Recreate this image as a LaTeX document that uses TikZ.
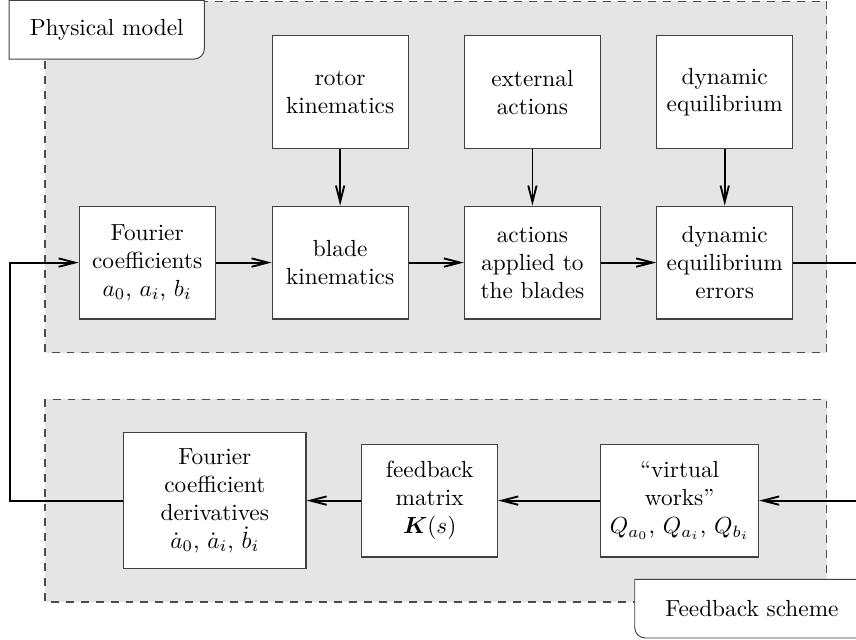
\documentclass[tikz,border=0pt]{standalone}
\usepackage{amsmath, amssymb}
\usepackage{tikz}
\usetikzlibrary{arrows.meta, positioning, calc}

\begin{document}
\begin{tikzpicture}[
      block/.style={draw=black!75, line width=0.5pt, fill=white, minimum width=2.05cm, minimum height=1.70cm, align=center, inner sep=2pt},
      group/.style={draw=black!70, fill=black!10, line width=0.55pt, dash pattern=on 3.4pt off 3pt},
      tag/.style={minimum height=0.87cm, inner sep=0pt},
      flow/.style={thick, -{Straight Barb[length=7pt, width=3.6pt]}}
    ]
      \useasboundingbox (0,0) rectangle (12.91,-9.64);

      % Group backgrounds
      \draw[group] (0.68,-0.02) rectangle (12.47,-5.32);
      \draw[group] (0.68,-6.02) rectangle (12.47,-9.08);

      % Group labels
      \node[tag, minimum width=2.93cm] (phys) at (1.61,-0.45) {Physical model};
      \draw[draw=black!75, fill=white] (phys.north west) -- (phys.north east) [rounded corners=4.5pt] -- (phys.south east) [sharp corners] -- (phys.south west) -- cycle;
      \node[tag, minimum width=2.93cm] at (phys) {Physical model};
      \node[tag, minimum width=3.52cm] (feed) at (11.34,-9.18) {Feedback scheme};
      \draw[draw=black!75, fill=white] (feed.north east) -- (feed.north west) [rounded corners=4.5pt] -- (feed.south west) [sharp corners] -- (feed.south east) -- cycle;
      \node[tag, minimum width=3.52cm] at (feed) {Feedback scheme};

      % Upper row
      \node[block] (rotor) at (5.13,-1.39) {rotor\\kinematics};
      \node[block] (extern) at (8.03,-1.39) {external\\actions};
      \node[block] (equil) at (10.93,-1.39) {dynamic\\equilibrium};

      % Middle row
      \node[block] (coeff) at (2.22,-3.96) {Fourier\\coefficients\\$a_0$, $a_i$, $b_i$};
      \node[block] (blade) at (5.13,-3.96) {blade\\kinematics};
      \node[block] (actions) at (8.03,-3.96) {actions\\applied to\\the blades};
      \node[block] (errors) at (10.93,-3.96) {dynamic\\equilibrium\\errors};

      % Lower row
      \node[block, minimum width=2.75cm, minimum height=2.05cm] (deriv) at (3.24,-7.55) {Fourier\\coefficient\\derivatives\\$\dot{a}_0$, $\dot{a}_i$, $\dot{b}_i$};
      \node[block] (kmat) at (6.48,-7.55) {feedback\\matrix\\$\boldsymbol{K}(s)$};
      \node[block, minimum width=2.38cm] (works) at (10.25,-7.55) {``virtual\\works''\\$Q_{a_0}$, $Q_{a_i}$, $Q_{b_i}$};

      % Connectors
      \draw[flow] (rotor) -- (blade);
      \draw[flow] (extern) -- (actions);
      \draw[flow] (equil) -- (errors);
      \draw[flow] (coeff) -- (blade);
      \draw[flow] (blade) -- (actions);
      \draw[flow] (actions) -- (errors);
      \coordinate (errout) at (13.2,-3.96);
      \coordinate (worksin) at (13.2,-7.55);
      \draw[thick] (errors) -- (errout);
      \draw[flow] (worksin) -- (works);
      \draw[flow] (works) -- (kmat);
      \draw[flow] (kmat) -- (deriv);
      \draw[flow] (deriv.west) -- ++(-1.70,0) |- (coeff.west);
    \end{tikzpicture}
\end{document}
